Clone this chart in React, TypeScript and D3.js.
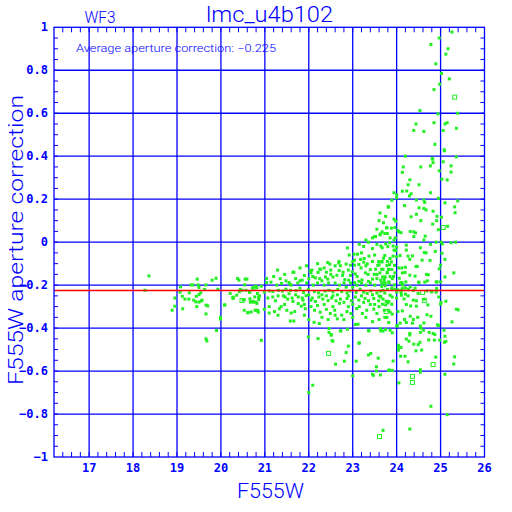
import React from "react";
import * as d3 from "d3";

// magnitude vs aperture correction
const filledPoints: [number, number][] = [
  [25.26, 0.978], [24.97, 0.95], [24.78, 0.92], [25.17, 0.9], [25.12, 0.875], [24.89, 0.83], [25.02, 0.785], [25.2, 0.76],
  [24.98, 0.735], [24.85, 0.71], [24.53, 0.613], [24.94, 0.597], [25.39, 0.6], [24.44, 0.55], [24.85, 0.556], [25.1, 0.55],
  [25.15, 0.556], [25.36, 0.53], [24.39, 0.52], [24.62, 0.515], [25.06, 0.52], [24.87, 0.455], [25.08, 0.43], [24.2, 0.4],
  [24.81, 0.39], [25.36, 0.397],
  [24.82, 0.386], [24.83, 0.37], [25.06, 0.374], [25.09, 0.425], [24.15, 0.35], [24.55, 0.35], [24.77, 0.355], [25.24, 0.355],
  [24.13, 0.325], [24.97, 0.332], [25.24, 0.326], [24.3, 0.29], [25.03, 0.293], [25.15, 0.29], [24.26, 0.267], [24.51, 0.267],
  [24.13, 0.237], [24.23, 0.238], [24.33, 0.225], [24.77, 0.23], [23.94, 0.23], [24.0, 0.22], [24.29, 0.215], [24.0, 0.206],
  [23.89, 0.195], [24.45, 0.196], [24.62, 0.196], [24.95, 0.204], [25.39, 0.192], [24.64, 0.185], [25.1, 0.183], [24.18, 0.17],
  [24.51, 0.16], [24.62, 0.157], [24.67, 0.15], [23.81, 0.163], [25.32, 0.164], [24.83, 0.144], [25.33, 0.137], [24.45, 0.13],
  [24.92, 0.12], [25.02, 0.116], [24.33, 0.118], [23.94, 0.107], [23.98, 0.097], [24.55, 0.1], [24.91, 0.1], [24.82, 0.084],
  [25.16, 0.074], [24.95, 0.058], [23.77, 0.066], [23.88, 0.065], [23.96, 0.068], [24.03, 0.054], [24.05, 0.048], [24.31, 0.05],
  [24.39, 0.048], [23.67, 0.048], [24.1, 0.044], [24.43, 0.043], [23.79, 0.04], [24.39, 0.026], [24.65, 0.028], [23.85, 0.02],
  [23.97, 0.02], [23.94, 0.01], [24.62, 0.01], [24.9, 0.0], [25.01, 0.0], [25.24, -0.003], [25.34, 0.0], [23.84, -0.003],
  [25.04, -0.008], [24.22, -0.014], [23.92, -0.018], [23.75, -0.008], [24.0, -0.023], [23.67, -0.026], [24.77, -0.01],
  [23.94, -0.037], [23.98, -0.04], [24.22, -0.037], [24.54, -0.026], [24.63, -0.048], [24.67, -0.05], [25.03, -0.052],
  [24.88, -0.043], [23.73, -0.062], [23.92, -0.065], [24.0, -0.068], [24.08, -0.062], [24.26, -0.065], [24.36, -0.064],
  [23.85, -0.076], [24.3, -0.08], [24.58, -0.084], [24.76, -0.085], [25.1, -0.08], [23.7, -0.075], [23.67, -0.092],
  [23.79, -0.09], [23.88, -0.092], [23.95, -0.108], [24.05, -0.12], [23.84, -0.105], [24.12, -0.12], [24.2, -0.117],
  [24.44, -0.113], [24.47, -0.113], [25.0, -0.107], [23.66, -0.126], [23.81, -0.126], [23.89, -0.127], [23.79, -0.141],
  [23.96, -0.143], [24.13, -0.143], [24.19, -0.141], [24.3, -0.154], [24.42, -0.158], [24.68, -0.15], [24.72, -0.152],
  [24.97, -0.124], [25.1, -0.162], [25.3, -0.143], [23.68, -0.163], [23.74, -0.163], [23.93, -0.16], [24.06, -0.168],
  [23.72, -0.176], [23.9, -0.17], [23.82, -0.185], [24.12, -0.188], [24.21, -0.185], [24.5, -0.186], [24.92, -0.185],
  [24.91, -0.216], [23.7, -0.19], [23.95, -0.199], [24.14, -0.2], [24.31, -0.208], [24.42, -0.214], [24.69, -0.227],
  [24.8, -0.232], [23.89, -0.22], [24.0, -0.233], [24.1, -0.236], [23.69, -0.224], [24.17, -0.264], [24.26, -0.25],
  [24.63, -0.265], [24.96, -0.255], [23.63, -0.255], [23.85, -0.247],
  [23.66, -0.19], [23.74, -0.19], [23.83, -0.19], [24.09, -0.19], [24.13, -0.195], [24.51, -0.188], [24.64, -0.186],
  [24.7, -0.18], [24.9, -0.185], [25.0, -0.185], [23.66, -0.206], [23.74, -0.203], [23.89, -0.213], [23.96, -0.219],
  [24.03, -0.222], [24.1, -0.224], [24.13, -0.216], [24.2, -0.213], [24.27, -0.219], [24.38, -0.225], [24.49, -0.239],
  [24.79, -0.228], [24.9, -0.233], [23.64, -0.253], [23.9, -0.255], [24.11, -0.247], [24.2, -0.242], [24.0, -0.26],
  [24.38, -0.27], [24.45, -0.273], [24.71, -0.292], [24.22, -0.29], [24.32, -0.297], [24.45, -0.298], [23.68, -0.289],
  [23.75, -0.292], [23.8, -0.283], [23.82, -0.276], [23.89, -0.289], [25.01, -0.28], [25.0, -0.289], [25.12, -0.275],
  [25.36, -0.312], [25.4, -0.315], [23.72, -0.317], [23.85, -0.325], [24.03, -0.323], [24.13, -0.32], [24.69, -0.338],
  [24.78, -0.345], [23.73, -0.35], [23.9, -0.335], [24.18, -0.36], [24.31, -0.345], [24.38, -0.36], [24.48, -0.35],
  [24.08, -0.377], [24.22, -0.374], [24.36, -0.377], [24.62, -0.376], [25.26, -0.371], [23.82, -0.374], [24.0, -0.39],
  [24.02, -0.39], [24.54, -0.39], [24.55, -0.4], [24.93, -0.385], [24.95, -0.388], [23.63, -0.403], [23.75, -0.407],
  [23.85, -0.41], [23.69, -0.414], [23.9, -0.422], [24.3, -0.425], [24.3, -0.432], [24.54, -0.42], [24.61, -0.41],
  [24.74, -0.42], [24.83, -0.425], [24.87, -0.43], [25.08, -0.41], [24.22, -0.451], [24.28, -0.461], [24.39, -0.475],
  [24.49, -0.477], [24.53, -0.466], [24.73, -0.455], [24.86, -0.456], [24.98, -0.456], [25.1, -0.438], [25.09, -0.466],
  [25.12, -0.462], [24.04, -0.48], [24.04, -0.49], [24.1, -0.49], [24.04, -0.503], [24.44, -0.506], [24.57, -0.502],
  [24.89, -0.535], [25.32, -0.534], [24.09, -0.531], [24.19, -0.531], [23.92, -0.553], [24.26, -0.557], [25.3, -0.567],
  [23.82, -0.597], [23.9, -0.597], [24.54, -0.594], [24.54, -0.605], [25.1, -0.615], [24.05, -0.655], [24.78, -0.764],
  [25.15, -0.803], [23.69, -0.876], [24.3, -0.87],
  [20.92, -0.457], [21.99, -0.441], [22.21, -0.449], [22.46, -0.42], [22.51, -0.433], [22.55, -0.461], [22.73, -0.413],
  [22.85, -0.514], [22.9, -0.484], [22.61, -0.568], [22.81, -0.554], [23.08, -0.554], [23.14, -0.47], [23.37, -0.413],
  [23.64, -0.413], [23.36, -0.525], [23.41, -0.518], [23.58, -0.54], [23.54, -0.58], [23.54, -0.6], [23.45, -0.615],
  [23.47, -0.62], [23.63, -0.618], [23.83, -0.595], [23.0, -0.622], [22.09, -0.666], [22.0, -0.7],
  [23.62, 0.136], [23.81, 0.165], [23.78, 0.068], [23.63, 0.038], [23.52, 0.026],
  [23.62, 0.034], [23.5, 0.026], [23.73, 0.04], [23.36, 0.0], [22.88, -0.027], [23.64, -0.018], [23.8, -0.021],
  [22.92, -0.06], [23.03, -0.056], [23.11, -0.056], [23.18, -0.08], [23.26, -0.076], [23.37, -0.065], [23.04, -0.084],
  [23.25, -0.093], [23.33, -0.101], [23.59, -0.09], [23.66, -0.09], [23.57, -0.108], [23.6, -0.105], [23.78, -0.108],
  [22.69, -0.09], [22.68, -0.097], [22.43, -0.095], [22.48, -0.102], [22.72, -0.11], [22.85, -0.102], [22.95, -0.107],
  [23.04, -0.107], [23.14, -0.104], [23.19, -0.12], [23.4, -0.128], [23.52, -0.126], [23.69, -0.127], [23.82, -0.127],
  [22.25, -0.126], [22.5, -0.13], [22.69, -0.132], [22.78, -0.14], [22.99, -0.138], [23.06, -0.148], [23.29, -0.143],
  [23.49, -0.15], [23.62, -0.143], [23.78, -0.143], [23.72, -0.162], [23.85, -0.16], [23.64, -0.177], [23.45, -0.172],
  [23.36, -0.183], [23.21, -0.176], [23.14, -0.182], [23.04, -0.188], [22.91, -0.177], [22.82, -0.174], [22.77, -0.155],
  [22.64, -0.154], [22.55, -0.162], [22.43, -0.172], [22.38, -0.162], [22.3, -0.18], [22.15, -0.166], [22.09, -0.16],
  [22.05, -0.143], [22.03, -0.134], [22.07, -0.13], [22.21, -0.141], [22.27, -0.126], [21.9, -0.155], [21.85, -0.177],
  [21.8, -0.18], [21.64, -0.14], [21.66, -0.14], [21.55, -0.188], [21.57, -0.195], [21.48, -0.18], [21.38, -0.192],
  [21.27, -0.2], [21.14, -0.186], [21.04, -0.169], [21.04, -0.188], [20.82, -0.211], [20.92, -0.205], [20.73, -0.214],
  [21.29, -0.13],
  [20.99, -0.233], [21.1, -0.227], [21.18, -0.23], [21.31, -0.224], [21.4, -0.228], [21.48, -0.219], [21.58, -0.224],
  [21.71, -0.225], [21.8, -0.214], [21.88, -0.234], [21.99, -0.22], [22.13, -0.23], [22.22, -0.236], [22.37, -0.228],
  [22.46, -0.224], [22.55, -0.231], [22.66, -0.22], [22.75, -0.23], [22.87, -0.236], [22.94, -0.227], [23.08, -0.234],
  [23.17, -0.219], [23.25, -0.233], [23.33, -0.239], [23.41, -0.227], [23.55, -0.236], [23.63, -0.228], [23.73, -0.237],
  [23.79, -0.22],
  [20.77, -0.255], [20.86, -0.267], [21.07, -0.26], [21.18, -0.255], [21.24, -0.273], [21.42, -0.25], [21.46, -0.255],
  [21.52, -0.265], [21.62, -0.26], [21.64, -0.276], [21.76, -0.255], [21.76, -0.286], [21.87, -0.27], [21.94, -0.249],
  [22.08, -0.26], [22.15, -0.276], [22.23, -0.255], [22.32, -0.265], [22.44, -0.272], [22.52, -0.26], [22.62, -0.273],
  [22.72, -0.265], [22.8, -0.28], [22.87, -0.262], [22.97, -0.273], [23.06, -0.255], [23.14, -0.27], [23.28, -0.262],
  [23.36, -0.273], [23.48, -0.262], [23.59, -0.273], [23.69, -0.265], [23.76, -0.275],
  [20.78, -0.317], [20.99, -0.313], [21.1, -0.3], [21.22, -0.323], [21.33, -0.31], [21.37, -0.3], [21.5, -0.317],
  [21.6, -0.33], [21.68, -0.323], [21.66, -0.367], [21.58, -0.367], [21.83, -0.298], [21.92, -0.31], [22.05, -0.3],
  [22.13, -0.317], [22.26, -0.326], [22.4, -0.313], [22.49, -0.332], [22.59, -0.317], [22.65, -0.357], [22.75, -0.34],
  [22.87, -0.323], [22.96, -0.332], [23.09, -0.309], [23.12, -0.382], [23.22, -0.332], [23.32, -0.317], [23.48, -0.312],
  [23.55, -0.332], [23.78, -0.35], [23.81, -0.317], [22.12, -0.373], [22.24, -0.379], [22.44, -0.36], [22.46, -0.402],
  [22.51, -0.43], [22.72, -0.413], [22.88, -0.405], [23.06, -0.383], [23.36, -0.411], [23.63, -0.405], [22.53, -0.458],
  [23.15, -0.469], [20.69, -0.325],
  [21.2, -0.16], [21.35, -0.17], [21.45, -0.15], [21.6, -0.2], [21.7, -0.17], [21.75, -0.19], [21.95, -0.19],
  [22.0, -0.17], [22.1, -0.2], [22.2, -0.19], [22.25, -0.17], [22.35, -0.2], [22.45, -0.19], [22.5, -0.15],
  [22.6, -0.19], [22.7, -0.2], [22.8, -0.19], [22.85, -0.21], [22.95, -0.19], [23.0, -0.21], [23.1, -0.2],
  [23.2, -0.19], [23.3, -0.2], [23.4, -0.19], [23.5, -0.2], [23.55, -0.17],
  [21.3, -0.25], [21.55, -0.24], [21.7, -0.245], [21.85, -0.26], [22.0, -0.245], [22.05, -0.27], [22.3, -0.245],
  [22.4, -0.25], [22.55, -0.25], [22.65, -0.245], [22.7, -0.285], [22.9, -0.25], [23.0, -0.29], [23.2, -0.25],
  [23.25, -0.28], [23.45, -0.245], [23.5, -0.29], [23.6, -0.25],
  [21.45, -0.29], [21.9, -0.29], [22.2, -0.295], [22.35, -0.29], [22.55, -0.3], [22.9, -0.3], [23.15, -0.3],
  [23.4, -0.29], [23.6, -0.3],
  [22.2, -0.1], [22.35, -0.12], [22.6, -0.11], [22.9, -0.13], [23.0, -0.09], [23.3, -0.11], [23.45, -0.09],
  [23.5, -0.06], [23.2, -0.05], [23.45, -0.03], [23.55, -0.01], [23.25, -0.02],
  [21.8, -0.12], [21.95, -0.11], [22.4, -0.14], [22.95, -0.155], [23.1, -0.16], [23.35, -0.15], [23.55, -0.15],
  [22.3, -0.35], [22.6, -0.34], [22.8, -0.36], [23.0, -0.35], [23.3, -0.35], [23.45, -0.37], [23.6, -0.36],
  [21.9, -0.34], [22.0, -0.36], [21.3, -0.34], [21.1, -0.33],
  [23.45, 0.02], [23.55, 0.06], [23.7, 0.09], [23.6, 0.1], [23.75, 0.12], [23.3, 0.01], [23.15, -0.01],
  [18.36, -0.157], [18.27, -0.224], [19.08, -0.208], [19.32, -0.199], [19.36, -0.199], [19.46, -0.172], [19.48, -0.199],
  [19.5, -0.211], [19.66, -0.199], [19.8, -0.177], [19.89, -0.168], [19.63, -0.22], [19.93, -0.219], [19.07, -0.233],
  [19.28, -0.236], [19.54, -0.236], [19.5, -0.244], [19.44, -0.252], [19.12, -0.252], [18.95, -0.26], [19.18, -0.265],
  [19.27, -0.265], [19.38, -0.27], [19.43, -0.278], [19.5, -0.279], [19.57, -0.27], [19.55, -0.274], [18.95, -0.298],
  [18.89, -0.317], [19.13, -0.31], [19.45, -0.3], [19.66, -0.293], [19.7, -0.297], [19.66, -0.334], [19.99, -0.35],
  [19.99, -0.358], [19.9, -0.411], [19.66, -0.45], [19.68, -0.46], [20.09, -0.292], [20.21, -0.239], [20.28, -0.256],
  [20.28, -0.262], [20.38, -0.169], [20.41, -0.177], [20.55, -0.172], [20.59, -0.172], [20.54, -0.199], [20.44, -0.22],
  [20.42, -0.231], [20.36, -0.247], [20.53, -0.267], [20.66, -0.264], [20.66, -0.233], [20.68, -0.278], [20.73, -0.276],
  [20.79, -0.279], [20.57, -0.224], [20.72, -0.213], [20.8, -0.213], [20.83, -0.239], [20.78, -0.205], [20.86, -0.255],
  [20.53, -0.317], [20.62, -0.327], [20.8, -0.317], [20.85, -0.326],
  [20.48, -0.224], [20.65, -0.233], [20.81, -0.208], [20.27, -0.258], [20.51, -0.27], [20.67, -0.279], [20.74, -0.279],
  [20.82, -0.285], [20.88, -0.25], [20.08, -0.293], [20.61, -0.329], [20.84, -0.318],
];

const hollowPoints: [number, number][] = [
  [25.32, 0.675], [25.06, 0.068], [24.59, -0.234], [24.63, -0.272], [23.76, -0.323], [24.83, -0.57],
  [24.36, -0.625], [24.36, -0.653], [23.61, -0.905], [22.45, -0.518], [20.48, -0.272],
];

const xGrid = [17, 18, 19, 20, 21, 22, 23, 24, 25, 26];
const yGrid = [-1, -0.8, -0.6, -0.4, -0.2, 0, 0.2, 0.4, 0.6, 0.8, 1];
const yLabels = ["\u22121", "\u22120.8", "\u22120.6", "\u22120.4", "\u22120.2", "0", "0.2", "0.4", "0.6", "0.8", "1"];
const averageCorrection = -0.225;

const blue = "#0000ff";
const green = "#22f022";
const thinFont = "Roboto, 'DejaVu Sans', sans-serif";

const App = () => {
  const x = d3.scaleLinear().domain([16.2, 26]).range([54, 484.5]);
  const y = d3.scaleLinear().domain([-1, 1]).range([457, 27.3]);
  const [x0, x1] = x.range();
  const [y0, y1] = y.range();

  const xMinor = d3.range(16.4, 26.01, 0.2);
  const yMinor = d3.range(-0.95, 1, 0.05);

  return (
    <svg width={512} height={512} style={{ position: "absolute", left: 0, top: 0, background: "#fff" }}>
      {/* grid */}
      {xGrid.slice(0, -1).map((v) => (
        <line key={"gx" + v} x1={x(v)} x2={x(v)} y1={y0} y2={y1} stroke={blue} strokeWidth={1.3} />
      ))}
      {yGrid.slice(1, -1).map((v) => (
        <line key={"gy" + v} x1={x0} x2={x1} y1={y(v)} y2={y(v)} stroke={blue} strokeWidth={1.3} />
      ))}
      {/* minor ticks */}
      {xMinor.map((v, i) => (
        <g key={"tx" + i}>
          <line x1={x(v)} x2={x(v)} y1={y0} y2={y0 - 5} stroke={blue} strokeWidth={1} />
          <line x1={x(v)} x2={x(v)} y1={y1} y2={y1 + 5} stroke={blue} strokeWidth={1} />
        </g>
      ))}
      {yMinor.map((v, i) => (
        <g key={"ty" + i}>
          <line x1={x0} x2={x0 + 4} y1={y(v)} y2={y(v)} stroke={blue} strokeWidth={1} />
          <line x1={x1} x2={x1 - 4} y1={y(v)} y2={y(v)} stroke={blue} strokeWidth={1} />
        </g>
      ))}
      {/* points */}
      {filledPoints.map(([a, b], i) => (
        <rect key={"p" + i} x={x(a) - 1.5} y={y(b) - 1.5} width={3} height={3} fill={green} />
      ))}
      {hollowPoints.map(([a, b], i) => (
        <rect key={"h" + i} x={x(a) - 2} y={y(b) - 2} width={4} height={4} fill="none" stroke={green} strokeWidth={1} />
      ))}
      {/* average line */}
      <line x1={x0} x2={x1} y1={y(averageCorrection)} y2={y(averageCorrection)} stroke="#ff0000" strokeWidth={1.5} />
      {/* frame */}
      <rect x={x0} y={y1} width={x1 - x0} height={y0 - y1} fill="none" stroke={blue} strokeWidth={1.3} />

      {/* tick labels */}
      <g fill={blue} fontFamily="DejaVu Sans Mono" fontWeight="bold" fontSize={12}>
        {xGrid.map((v) => (
          <text key={"lx" + v} x={x(v)} y={472} textAnchor="middle">{v}</text>
        ))}
        {yGrid.map((v, i) => (
          <text key={"ly" + v} x={48} y={y(v) + 4} textAnchor="end">{yLabels[i]}</text>
        ))}
      </g>

      <g fill={blue} fontFamily={thinFont} fontWeight={300}>
        <text x={100} y={23} fontSize={16} textAnchor="middle" textLength={31} lengthAdjust="spacingAndGlyphs">WF3</text>
        <text x={206} y={22} fontSize={22} textLength={127} lengthAdjust="spacingAndGlyphs">lmc_u4b102</text>
        <text x={76} y={52} fontSize={11} textLength={200} lengthAdjust="spacingAndGlyphs">
          Average aperture correction: {"\u2212"}0.225
        </text>
        <text x={237} y={498} fontSize={21} textLength={67} lengthAdjust="spacingAndGlyphs">F555W</text>
        <text
          transform="translate(23,240) rotate(-90)"
          fontSize={20}
          textAnchor="middle"
          textLength={290}
          lengthAdjust="spacingAndGlyphs"
        >
          F555W aperture correction
        </text>
      </g>
    </svg>
  );
};

export default App;
